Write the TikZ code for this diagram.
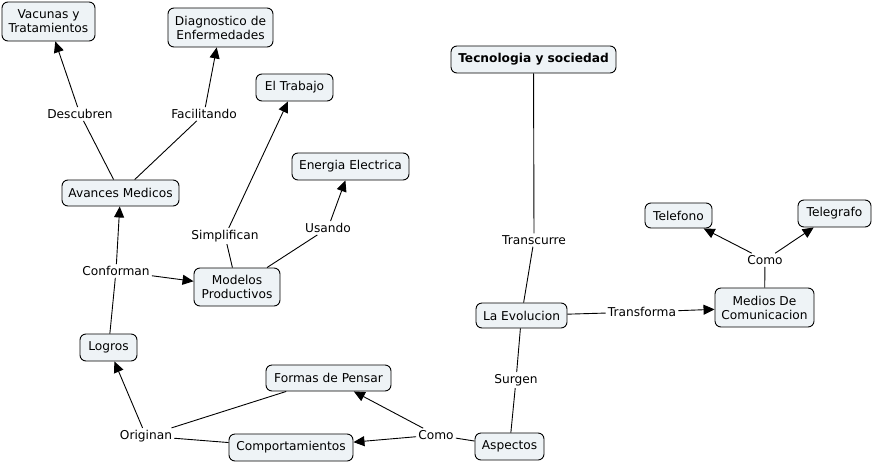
\documentclass[tikz,border=0pt]{standalone}
\usepackage{fontspec}
\setmainfont{DejaVu Sans}
\usetikzlibrary{arrows.meta}
\definecolor{boxfill}{HTML}{EEF3F6}
\begin{document}
\begin{tikzpicture}[x=1pt,y=-1pt,
  every node/.style={font=\fontsize{12.2}{14}\selectfont},
  concept/.style={draw=black, line width=0.9pt, fill=boxfill, rounded corners=6pt, align=center, inner sep=1pt},
  lbl/.style={inner sep=2pt, fill=white},
  conn/.style={draw=black, line width=0.9pt},
  arr/.style={conn, -{Triangle[length=11pt,width=10pt]}}
]
\useasboundingbox (0,0) rectangle (874,463);
% concepts
\node[concept, minimum width=93pt, minimum height=39pt] (vac) at (48.5,21.5) {Vacunas y\\Tratamientos};
\node[concept, minimum width=105pt, minimum height=39pt] (diag) at (220.5,27.5) {Diagnostico de\\Enfermedades};
\node[concept, minimum width=77pt, minimum height=27pt] (trab) at (294.5,87.5) {El Trabajo};
\node[concept, minimum width=117pt, minimum height=27pt] (ener) at (350.5,166.5) {Energia Electrica};
\node[concept, minimum width=165pt, minimum height=27pt, font=\fontsize{12.2}{14}\selectfont\bfseries] (tec) at (533.5,59.5) {Tecnologia y sociedad};
\node[concept, minimum width=117pt, minimum height=26pt] (ava) at (120.5,193) {Avances Medicos};
\node[concept, minimum width=67pt, minimum height=25pt] (tfono) at (678.5,215.5) {Telefono};
\node[concept, minimum width=73pt, minimum height=27pt] (tgraf) at (834.5,213.5) {Telegrafo};
\node[concept, minimum width=86pt, minimum height=38pt] (mod) at (237,287) {Modelos\\Productivos};
\node[concept, minimum width=91pt, minimum height=25pt] (evo) at (521.5,315.5) {La Evolucion};
\node[concept, minimum width=99pt, minimum height=39pt] (med) at (764.5,307.5) {Medios De\\Comunicacion};
\node[concept, minimum width=57pt, minimum height=27pt] (log) at (108.5,347.5) {Logros};
\node[concept, minimum width=125pt, minimum height=26pt] (form) at (328.5,378) {Formas de Pensar};
\node[concept, minimum width=124pt, minimum height=27pt] (comp) at (291,447.5) {Comportamientos};
\node[concept, minimum width=69pt, minimum height=27pt] (asp) at (509.5,446.5) {Aspectos};
% labels
\node[lbl] (desc) at (80,114) {Descubren};
\node[lbl] (faci) at (204,114) {Facilitando};
\node[lbl] (simp) at (225,236) {Simplifican};
\node[lbl] (usa) at (328,228) {Usando};
\node[lbl] (conf) at (116,271) {Conforman};
\node[lbl] (trans) at (534,240) {Transcurre};
\node[lbl] (como1) at (765,260) {Como};
\node[lbl] (tform) at (642,312) {Transforma};
\node[lbl] (surg) at (516,380) {Surgen};
\node[lbl] (orig) at (146,436) {Originan};
\node[lbl] (como2) at (436,435) {Como};
% connectors
\draw[conn] (ava) -- (desc); \draw[arr] (desc) -- (vac);
\draw[conn] (ava) -- (faci); \draw[arr] (faci) -- (diag);
\draw[conn] (mod) -- (simp); \draw[arr] (simp) -- (trab);
\draw[conn] (mod) -- (usa); \draw[arr] (usa) -- (ener);
\draw[conn] (log) -- (conf); \draw[arr] (conf) -- (ava); \draw[arr] (conf) -- (mod);
\draw[conn] (tec) -- (trans); \draw[conn] (trans) -- (evo);
\draw[conn] (evo) -- (tform); \draw[arr] (tform) -- (med);
\draw[conn] (med) -- (como1); \draw[arr] (como1) -- (tfono); \draw[arr] (como1) -- (tgraf);
\draw[conn] (evo) -- (surg); \draw[conn] (surg) -- (asp);
\draw[conn] (asp) -- (como2); \draw[arr] (como2) -- (form); \draw[arr] (como2) -- (comp);
\draw[conn] (form) -- (orig); \draw[conn] (comp) -- (orig); \draw[arr] (orig) -- (log);
\end{tikzpicture}
\end{document}
